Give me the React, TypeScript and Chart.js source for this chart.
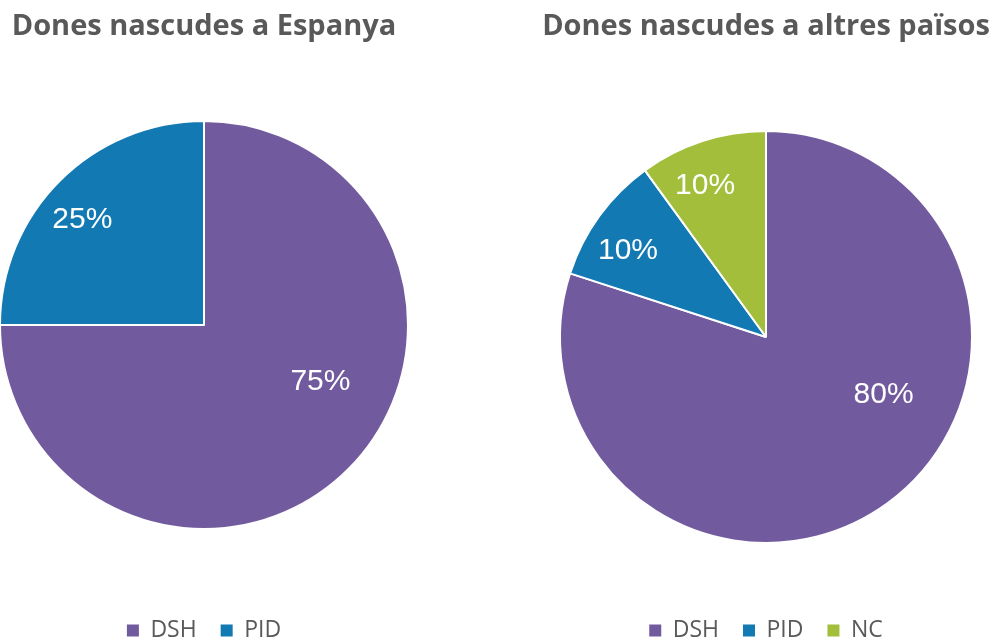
import React, { useEffect, useRef } from "react";
import { Chart, registerables } from "chart.js";
Chart.register(...registerables);

const titleSpain = "Dones nascudes a Espanya";
const categoriesSpain = ["DSH", "PID"];
const valuesSpain = [75, 25];

const titleOther = "Dones nascudes a altres països";
const categoriesOther = ["DSH", "PID", "NC"];
const valuesOther = [80, 10, 10];

const sliceColors = ["#715b9e", "#1279b3", "#a2be3a"];
const textGray = "#595959";

const pctPlugin = {
  id: "pctLabels",
  afterDatasetsDraw(chart: any) {
    const ctx = chart.ctx;
    const meta = chart.getDatasetMeta(0);
    const data = chart.data.datasets[0].data as number[];
    const total = data.reduce((a, b) => a + b, 0);
    ctx.save();
    ctx.fillStyle = "#ffffff";
    ctx.font = "30px 'Liberation Sans', Arial, sans-serif";
    ctx.textAlign = "center";
    ctx.textBaseline = "middle";
    meta.data.forEach((arc: any, i: number) => {
      const p = arc.getProps(["x", "y", "startAngle", "endAngle", "outerRadius"], true);
      const frac = data[i] / total;
      let ang: number;
      let r: number;
      if (frac > 0.5) {
        ang = p.startAngle + (116 * Math.PI) / 180;
        r = 0.635 * p.outerRadius;
      } else {
        ang = (p.startAngle + p.endAngle) / 2 - (4 * Math.PI) / 180;
        r = 0.79 * p.outerRadius;
      }
      ctx.fillText(Math.round(frac * 100) + "%", p.x + r * Math.cos(ang), p.y + r * Math.sin(ang));
    });
    ctx.restore();
  },
};

type PieProps = {
  title: string;
  labels: string[];
  values: number[];
  radius: number;
  titlePadBottom: number;
  left: number;
  width: number;
  padRight: number;
};

const CANVAS_H = 652;

function PieChart({ title, labels, values, radius, titlePadBottom, left, width, padRight }: PieProps) {
  const ref = useRef<HTMLCanvasElement | null>(null);
  useEffect(() => {
    if (!ref.current) return;
    const baseGen = (Chart as any).overrides.doughnut.plugins.legend.labels.generateLabels;
    const chart = new Chart(ref.current, {
      type: "pie",
      data: {
        labels,
        datasets: [
          {
            data: values,
            backgroundColor: sliceColors.slice(0, values.length),
            borderColor: "#ffffff",
            borderWidth: 2,
          },
        ],
      },
      options: {
        animation: false,
        responsive: false,
        devicePixelRatio: 1,
        radius: radius,
        layout: { padding: { left: 0, right: padRight, top: 0, bottom: 0 } },
        plugins: {
          tooltip: { enabled: false },
          title: {
            display: true,
            text: title,
            color: textGray,
            font: { family: "'Open Sans', sans-serif", size: 29, weight: "bold", lineHeight: 1.2 },
            padding: { top: 9.6, bottom: titlePadBottom },
          },
          legend: {
            display: true,
            position: "bottom",
            labels: {
              boxWidth: 12,
              boxHeight: 12,
              padding: 24,
              color: textGray,
              font: { family: "'Open Sans', sans-serif", size: 23 },
              generateLabels: (c: any) =>
                baseGen(c).map((it: any) => ({ ...it, lineWidth: 0, strokeStyle: it.fillStyle })),
            },
          },
        },
      } as any,
      plugins: [pctPlugin],
    });
    return () => chart.destroy();
  }, []);
  return (
    <canvas
      ref={ref}
      width={width}
      height={CANVAS_H}
      style={{ position: "absolute", left, top: 0, width, height: CANVAS_H }}
    />
  );
}

export default function App() {
  return (
    <div
      style={{
        position: "absolute",
        left: 0,
        top: 0,
        width: 998,
        height: 641,
        overflow: "hidden",
        background: "#ffffff",
      }}
    >
      <PieChart
        title={titleSpain}
        labels={categoriesSpain}
        values={valuesSpain}
        radius={204}
        titlePadBottom={10.6}
        left={0}
        width={408}
        padRight={0}
      />
      <PieChart
        title={titleOther}
        labels={categoriesOther}
        values={valuesOther}
        radius={206}
        titlePadBottom={34.6}
        left={538}
        width={460}
        padRight={4}
      />
    </div>
  );
}
